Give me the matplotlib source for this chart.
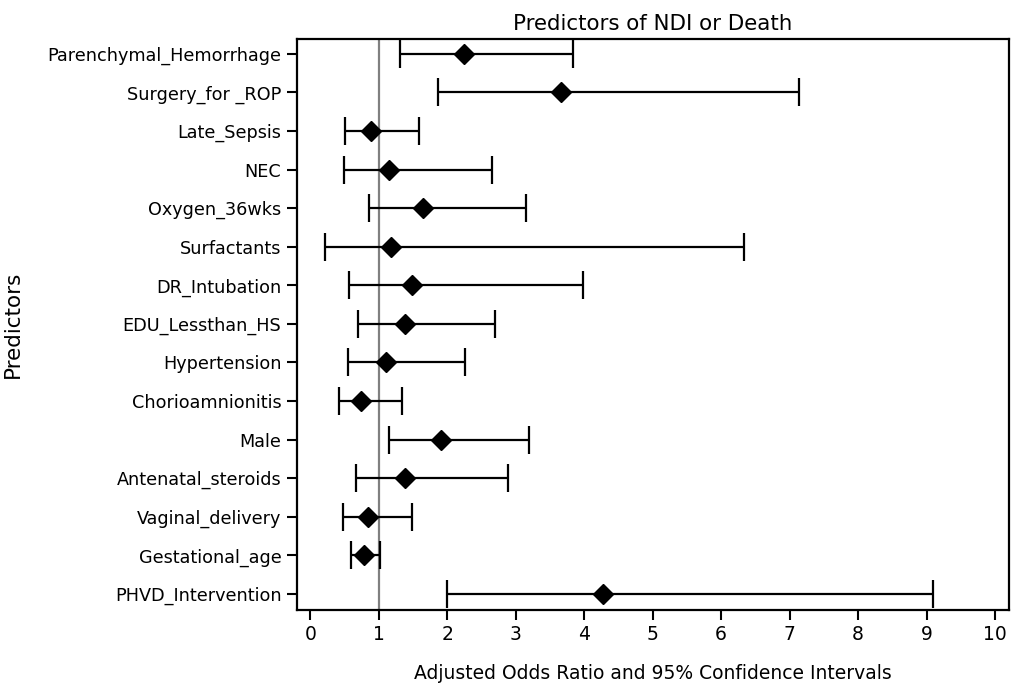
import numpy as np
import matplotlib.pyplot as plt

plt.rcParams['font.family'] = ['DejaVu Sans']

predictors = ['Parenchymal_Hemorrhage', 'Surgery_for _ROP', 'Late_Sepsis', 'NEC',
              'Oxygen_36wks', 'Surfactants', 'DR_Intubation', 'EDU_Lessthan_HS',
              'Hypertension', 'Chorioamnionitis', 'Male', 'Antenatal_steroids',
              'Vaginal_delivery', 'Gestational_age', 'PHVD_Intervention']
odds_ratio = [2.24, 3.66, 0.89, 1.15, 1.64, 1.18, 1.49, 1.38, 1.11, 0.74, 1.91, 1.38, 0.84, 0.78, 4.27]
lower_ci = [1.31, 1.87, 0.50, 0.49, 0.86, 0.22, 0.56, 0.70, 0.55, 0.42, 1.15, 0.66, 0.47, 0.59, 2.00]
upper_ci = [3.84, 7.13, 1.58, 2.66, 3.15, 6.33, 3.98, 2.69, 2.26, 1.34, 3.19, 2.88, 1.49, 1.01, 9.10]

orr = np.array(odds_ratio)
lo = np.array(lower_ci)
hi = np.array(upper_ci)
ypos = np.arange(1, len(predictors) + 1)

fig = plt.figure(figsize=(10.15, 6.94), dpi=100)
ax = fig.add_axes([0.2923, 0.121, 0.7015, 0.8224])

# reference line at OR = 1
ax.axvline(1, color='#808080', lw=1.6, zorder=1)

ax.errorbar(orr, ypos, xerr=[orr - lo, hi - orr], fmt='D', color='black',
            ms=10, lw=1.6, capsize=10, capthick=1.6, zorder=3)

ax.set_xlim(-0.2, 10.2)
ax.set_ylim(15.42, 0.62)
ax.set_xticks(np.arange(0, 11, 1))
ax.set_yticks(ypos)
ax.set_yticklabels(predictors)

ax.tick_params(axis='both', direction='out', length=7, width=1.5, labelsize=12.7, pad=4)
ax.tick_params(axis='x', labelsize=13.5)
for s in ax.spines.values():
    s.set_linewidth(1.6)

ax.set_title('Predictors of NDI or Death', fontsize=15.4, pad=7)
ax.set_xlabel('Adjusted Odds Ratio and 95% Confidence Intervals', fontsize=13.5, labelpad=14)
ax.set_ylabel('Predictors', fontsize=15.5)
ax.yaxis.set_label_coords(-0.384, 0.5)

plt.savefig('out.png', dpi=100)
